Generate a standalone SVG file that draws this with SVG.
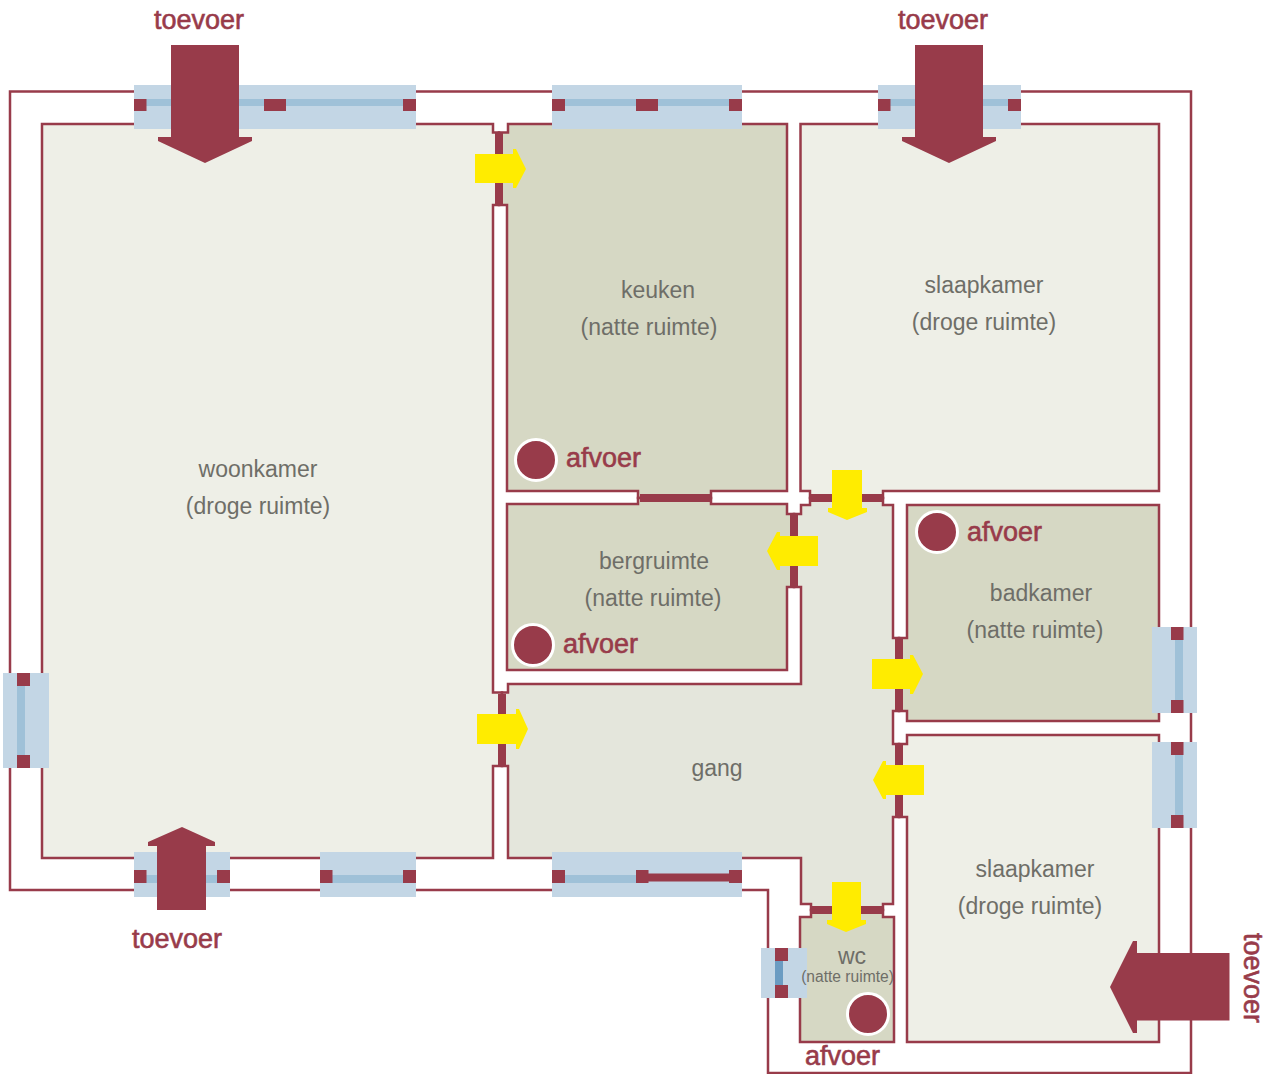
<svg xmlns="http://www.w3.org/2000/svg" width="1273" height="1074" viewBox="0 0 1273 1074">
<style>
.room{stroke:#983b4a;stroke-width:2.5;stroke-linejoin:miter}
.dry{fill:#eeefe7}.wet{fill:#d6d8c4}.hall{fill:#e4e6dc}
.leaf{fill:#983b4a}
.glass{fill:#c3d6e5}.pane{fill:#9fc1d8}.sq{fill:#983b4a}
.big{fill:#983b4a}.flow{fill:#ffec00}
.drain{fill:#983b4a;stroke:#fff;stroke-width:3}
.lab{font-family:"Liberation Sans",Arial,sans-serif;font-size:23px;fill:#6e6e68;text-anchor:middle}
.key{font-family:"Liberation Sans",Arial,sans-serif;font-size:27px;fill:#983b4a;stroke:#983b4a;stroke-width:.6}
</style>
<rect width="1273" height="1074" fill="#fff"/>
<g id="building"><path d="M10,91.500H1191V1073H768V890H10Z" fill="#fff" stroke="#983b4a" stroke-width="2.500"/></g>
<g id="woonkamer"><path class="room dry" d="M42,124H493V132.500H499V205H493V692.500H502V766H493V858H42Z"/><text class="lab" x="258" y="477">woonkamer</text><text class="lab" x="258" y="514">(droge ruimte)</text></g>
<g id="keuken"><path class="room wet" d="M508,124H787V491H711V498H638V491H507V205H499V132.500H508Z"/><text class="lab" x="658" y="298">keuken</text><text class="lab" x="649" y="335">(natte ruimte)</text></g>
<g id="slaapkamer-noord"><path class="room dry" d="M800.500,124H1159V491H883V498H810V491H800.500Z"/><text class="lab" x="984" y="293">slaapkamer</text><text class="lab" x="984" y="330">(droge ruimte)</text></g>
<g id="bergruimte"><path class="room wet" d="M507,504H638V498H711V504H787V514H794V587H787V670H507Z"/><text class="lab" x="654" y="569">bergruimte</text><text class="lab" x="653" y="606">(natte ruimte)</text></g>
<g id="gang"><path class="room hall" d="M508,684H801V587H794V514H801V505H810V498H883V505H893V638H899V711H893V744H899V817H893V904H883V910H811V904H801V858H508V766H502V692.500H508Z"/><text class="lab" x="717" y="776">gang</text></g>
<g id="badkamer"><path class="room wet" d="M907,505H1159V721H907V711H899V638H907Z"/><text class="lab" x="1041" y="601">badkamer</text><text class="lab" x="1035" y="638">(natte ruimte)</text></g>
<g id="slaapkamer-zuid"><path class="room dry" d="M907,735H1159V1042H907V817H899V744H907Z"/><text class="lab" x="1035" y="877">slaapkamer</text><text class="lab" x="1030" y="914">(droge ruimte)</text></g>
<g id="wc"><path class="room wet" d="M800,917H811V910H883V917H894V1042H800Z"/></g>
<g id="deuren">
<rect class="leaf" x="495" y="133" width="8" height="72"/>
<rect class="leaf" x="498" y="694" width="8" height="71"/>
<rect class="leaf" x="640" y="494" width="71" height="8"/>
<rect class="leaf" x="790" y="515" width="8" height="71"/>
<rect class="leaf" x="811" y="494" width="72" height="8"/>
<rect class="leaf" x="895" y="639" width="8" height="71"/>
<rect class="leaf" x="895" y="745" width="8" height="71"/>
<rect class="leaf" x="812" y="906" width="70" height="8"/>
</g>
<g id="ramen">
<rect class="glass" x="134" y="85" width="282" height="44"/><rect class="pane" x="146" y="99" width="257" height="7"/><rect class="sq" x="134" y="99" width="12.500" height="12"/><rect class="sq" x="264" y="99" width="22" height="12"/><rect class="sq" x="403" y="99" width="13" height="12"/>
<rect class="glass" x="552" y="85" width="190" height="44"/><rect class="pane" x="565" y="99" width="164" height="7"/><rect class="sq" x="552" y="99" width="13" height="12"/><rect class="sq" x="636" y="99" width="22" height="12"/><rect class="sq" x="729" y="99" width="13" height="12"/>
<rect class="glass" x="878" y="85" width="143" height="44"/><rect class="pane" x="890" y="99" width="118" height="7"/><rect class="sq" x="878" y="99" width="12.500" height="12"/><rect class="sq" x="1008" y="99" width="13" height="12"/>
<rect class="glass" x="3" y="673" width="46" height="95"/><rect class="pane" x="17" y="686" width="8" height="69"/><rect class="sq" x="17" y="673" width="13" height="13"/><rect class="sq" x="17" y="755" width="13" height="13"/>
<rect class="glass" x="134" y="852" width="96" height="45"/><rect class="pane" x="146" y="875" width="71" height="8"/><rect class="sq" x="134" y="870" width="12.500" height="13"/><rect class="sq" x="217" y="870" width="13" height="13"/>
<rect class="glass" x="320" y="852" width="96" height="45"/><rect class="pane" x="332" y="875" width="71" height="8"/><rect class="sq" x="320" y="870" width="12.500" height="13"/><rect class="sq" x="403" y="870" width="13" height="13"/>
<rect class="glass" x="552" y="852" width="190" height="45"/><rect class="pane" x="565" y="875" width="71" height="8"/><rect class="leaf" x="648" y="873.500" width="81" height="8"/><rect class="sq" x="552" y="870" width="13" height="13"/><rect class="sq" x="636" y="870" width="12.500" height="13"/><rect class="sq" x="729" y="870" width="13" height="13"/>
<rect class="glass" x="1152" y="627" width="45" height="86"/><rect class="pane" x="1175" y="640" width="8" height="60"/><rect class="sq" x="1171" y="627" width="12.500" height="13"/><rect class="sq" x="1171" y="700" width="12.500" height="13"/>
<rect class="glass" x="1152" y="742" width="45" height="86"/><rect class="pane" x="1175" y="755" width="8" height="60"/><rect class="sq" x="1171" y="742" width="12.500" height="13"/><rect class="sq" x="1171" y="815" width="12.500" height="13"/>
<rect class="glass" x="761" y="948" width="46" height="50"/><rect x="775" y="961" width="8" height="24" fill="#6b9cc2"/><rect class="sq" x="775" y="948" width="13" height="13"/><rect class="sq" x="775" y="985" width="13" height="13"/>
</g>
<g id="connectors">
<polygon class="big" points="171,45 239,45 239,137 252,137 252,141 205,163 158,141 158,137 171,137"/>
<polygon class="big" points="915,45 983,45 983,137 996,137 996,141 949,163 902,141 902,137 915,137"/>
<polygon class="big" points="182,827 215,842 215,846 206,846 206,910 157,910 157,846 148,846 148,842"/>
<polygon class="big" points="1229.500,953 1229.500,1020.500 1137,1020.500 1137,1033 1133,1033 1110,987 1133,941 1137,941 1137,953"/>
<polygon class="flow" points="475,154 513,154 513,149 516,149 526,169 516,188 513,188 513,183 475,183"/>
<polygon class="flow" points="477,714 516,714 516,709 519,709 528,729 519,749 516,749 516,744 477,744"/>
<polygon class="flow" points="832,470 862,470 862,508 867,508 867,512 847,520 828,512 828,508 832,508"/>
<polygon class="flow" points="818,536 780,536 780,532 777,532 767,551 777,570 780,570 780,566 818,566"/>
<polygon class="flow" points="872,659 910,659 910,655 913,655 923,674 913,694 910,694 910,689 872,689"/>
<polygon class="flow" points="924,765 886,765 886,761 883,761 873,780 883,799 886,799 886,795 924,795"/>
<polygon class="flow" points="832,882 861,882 861,920 866,920 866,924 846,932 827,924 827,920 832,920"/>
</g>
<g id="afvoer-keuken"><circle class="drain" cx="536" cy="460" r="20.500"/><text class="key" x="566" y="467">afvoer</text></g>
<g id="afvoer-berg"><circle class="drain" cx="533" cy="645" r="20.500"/><text class="key" x="563" y="653">afvoer</text></g>
<g id="afvoer-bad"><circle class="drain" cx="937" cy="532" r="20.500"/><text class="key" x="967" y="541">afvoer</text></g>
<g id="afvoer-wc"><circle class="drain" cx="868" cy="1014" r="20.500"/><text class="key" x="805" y="1065">afvoer</text></g>
<g id="labels">
<text class="lab" x="852" y="964">wc</text>
<text class="lab" x="847.500" y="982" style="font-size:15.600px">(natte ruimte)</text>
<text class="key" x="154" y="29">toevoer</text>
<text class="key" x="898" y="29">toevoer</text>
<text class="key" x="132" y="948">toevoer</text>
<text class="key" transform="translate(1244,933) rotate(90)">toevoer</text>
</g>
</svg>
